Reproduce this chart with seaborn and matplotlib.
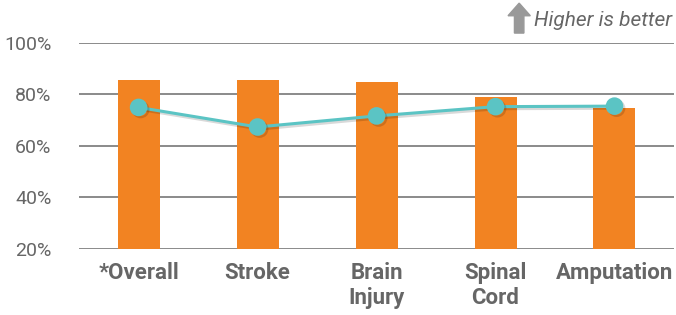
import matplotlib
matplotlib.use("Agg")
import matplotlib.pyplot as plt
import matplotlib.patheffects as pe
import seaborn as sns
import pandas as pd

# %% data
categories = ["*Overall", "Stroke", "Brain\nInjury", "Spinal\nCord", "Amputation"]
bar_values = [85.4, 85.4, 84.8, 78.8, 74.6]
line_values = [74.8, 67.2, 71.5, 75.1, 75.3]
y_ticks = [20, 40, 60, 80, 100]

df = pd.DataFrame({"category": categories, "bar": bar_values, "line": line_values})

orange = "#F28322"
teal = "#5BC4C4"
grey_txt = "#666666"

# %% plot
sns.set_style("white")
plt.rcParams["font.family"] = ["Roboto", "DejaVu Sans"]

fig = plt.figure(figsize=(6.76, 3.15), dpi=100)
ax = fig.add_axes([0.117, 0.211, 0.880, 0.654])

sns.barplot(data=df, x="category", y="bar", color=orange, width=0.353,
            saturation=1, linewidth=0, ax=ax, zorder=2)
sns.pointplot(data=df, x="category", y="line", color=teal, markers="o",
              markersize=11, linewidth=2.2, ax=ax, zorder=3)
for ln in ax.lines:
    ln.set_path_effects([pe.SimpleLineShadow(offset=(1.5, -1.5), alpha=0.15), pe.Normal()])

ax.set_xlim(-0.5, 4.5)
ax.set_ylim(20, 100)
ax.set_yticks(y_ticks)
ax.set_yticklabels([f"{t}%" for t in y_ticks], fontsize=14, color=grey_txt)
ax.yaxis.grid(True, color="#8a8a8a", linewidth=1.4, zorder=0)
ax.set_axisbelow(True)
ax.tick_params(axis="y", length=0, pad=20)
ax.tick_params(axis="x", length=0, pad=10)
for lbl in ax.get_xticklabels():
    lbl.set_fontsize(16)
    lbl.set_fontweight("bold")
    lbl.set_color(grey_txt)
    lbl.set_linespacing(1.15)
ax.set_xlabel("")
ax.set_ylabel("")
sns.despine(ax=ax, left=True, bottom=True)

# "Higher is better" note
fig.patches.append(matplotlib.patches.FancyArrow(
    0.768, 0.895, 0, 0.095, width=0.014, head_width=0.033, head_length=0.04,
    length_includes_head=True, color="#999999", transform=fig.transFigure, figure=fig))
fig.text(0.79, 0.935, "Higher is better", fontsize=15, style="italic",
         color=grey_txt, va="center", ha="left")

fig.savefig("out.png", dpi=100)
